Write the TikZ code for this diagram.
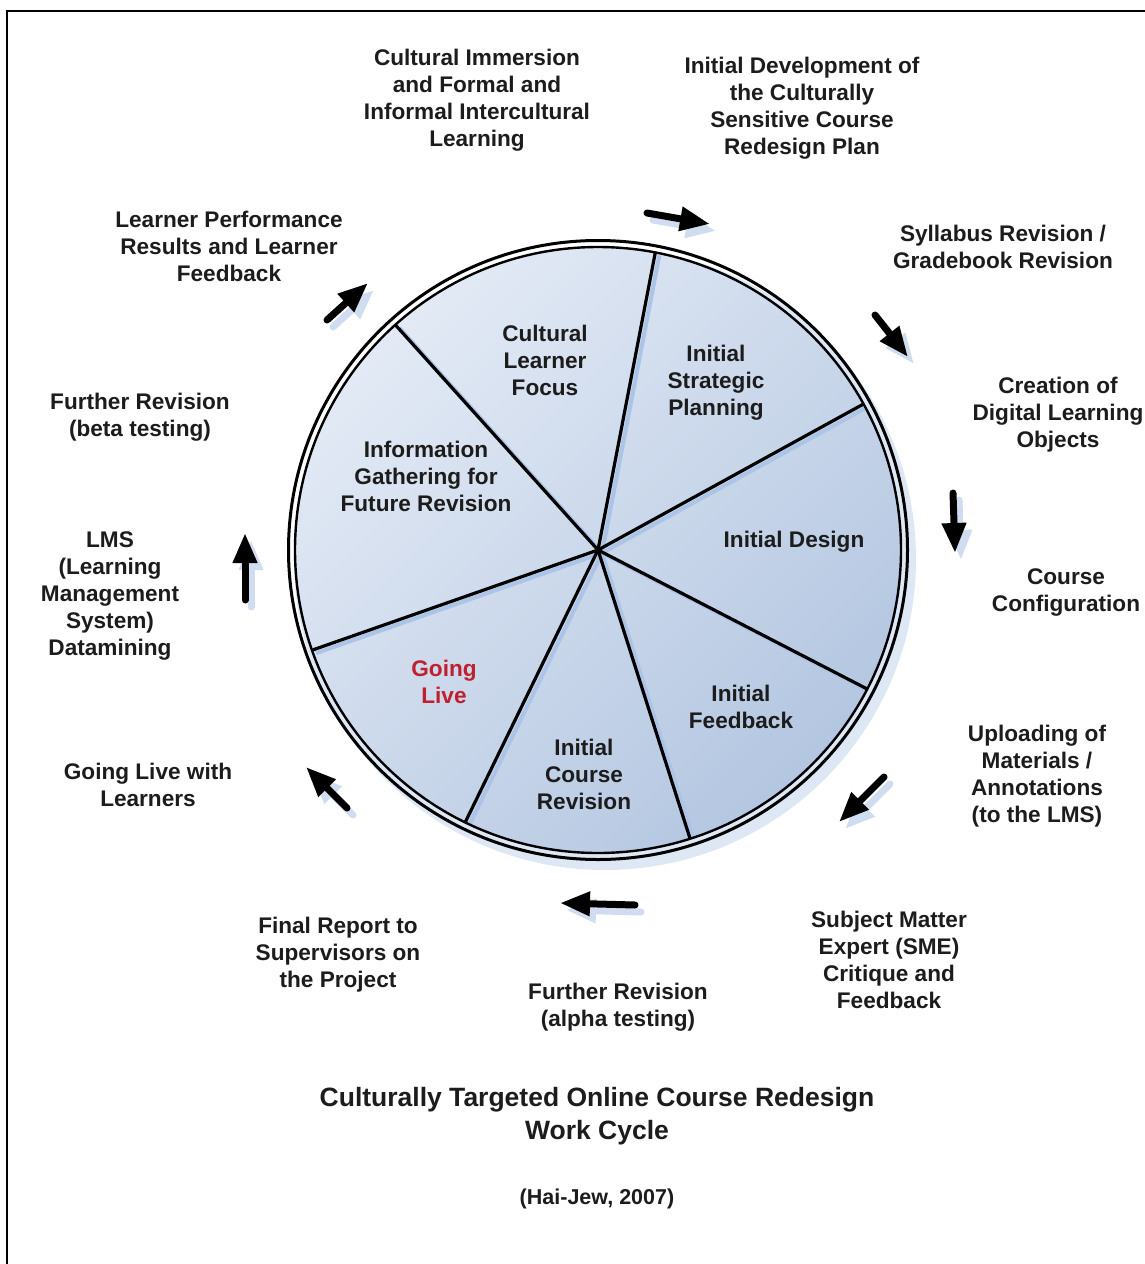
\documentclass[tikz,border=0pt]{standalone}
\usepackage{fontspec}
\setmainfont{Liberation Sans}
\usetikzlibrary{arrows.meta}
\definecolor{txt}{RGB}{28,28,28}
\definecolor{pieL}{RGB}{228,235,246}
\definecolor{pieD}{RGB}{178,197,224}
\definecolor{spokeshadow}{RGB}{172,196,230}
\definecolor{arrowshadow}{RGB}{208,220,240}
\definecolor{circshadow}{RGB}{222,231,244}
\definecolor{golive}{RGB}{192,32,45}
\tikzset{
  lbl/.style={font=\bfseries\fontsize{22.6}{27}\selectfont, text=txt, align=center, inner sep=0pt},
  ttl/.style={font=\bfseries\fontsize{26.5}{33}\selectfont, text=txt, align=center, inner sep=0pt},
  spoke/.style={line width=3.2pt, black},
  spokesh/.style={line width=4pt, spokeshadow},
  cyc/.style={line width=7pt, line cap=round, -{Triangle[length=30pt,width=23pt]}},
  cycsh/.style={cyc, arrowshadow},
  frame/.style={line width=2.4pt, black},
}
\begin{document}
\begin{tikzpicture}[x=1pt,y=-1pt]
\useasboundingbox (0,0) rectangle (1145,1264);
% frame (only left and top edges visible)
\coordinate (fbl) at (7,1264);
\coordinate (ftl) at (7,11);
\coordinate (ftr) at (1145,11);
\draw[frame] (fbl) -- (ftl) -- (ftr);

% centre and spoke ends
\coordinate (c) at (598,550);
\coordinate (s1) at (655.3,252.5);
\coordinate (s2) at (863.5,404.0);
\coordinate (s3) at (867.2,689.0);
\coordinate (s4) at (690.1,838.7);
\coordinate (s5) at (465.2,822.3);
\coordinate (s6) at (312.0,650.2);
\coordinate (s7) at (395.3,324.8);

% shadow of the wheel
\fill[circshadow] (605,559) circle (311);
% wheel fill
\begin{scope}
  \clip (c) circle (303);
  \shade[top color=pieL, bottom color=pieD, shading angle=45] (280,230) rectangle (920,870);
  \foreach \s in {s1,s2,s3,s4,s5,s6,s7}{
    \draw[spokesh] ([shift={(4,3)}]c) -- ([shift={(4,3)}]\s);
  }
\end{scope}
% spokes
\foreach \s in {s1,s2,s3,s4,s5,s6,s7}{
  \draw[spoke] (c) -- (\s);
}
% double ring
\draw[line width=2.4pt] (c) circle (303);
\draw[line width=3pt] (c) circle (309.5);

% cycle arrows
\coordinate (a1s) at (647,213); \coordinate (a1e) at (710,224);
\coordinate (a2s) at (875,315); \coordinate (a2e) at (908,357);
\coordinate (a3s) at (953,493); \coordinate (a3e) at (955,553);
\coordinate (a4s) at (884,777); \coordinate (a4e) at (839,822);
\coordinate (a5s) at (635,905); \coordinate (a5e) at (560,903);
\coordinate (a6s) at (347,808); \coordinate (a6e) at (306,767);
\coordinate (a7s) at (245,600); \coordinate (a7e) at (245,533);
\coordinate (a8s) at (327,320); \coordinate (a8e) at (368,283);
\foreach \i in {1,...,8}{
  \draw[cycsh] ([shift={(6,7)}]a\i s) -- ([shift={(6,7)}]a\i e);
}
\foreach \i in {1,...,8}{
  \draw[cyc] (a\i s) -- (a\i e);
}

% outer labels
\node[lbl] (l1) at (477,100.5) {Cultural Immersion\\and Formal and\\Informal Intercultural\\Learning};
\node[lbl] (l2) at (802,108.5) {Initial Development of\\the Culturally\\Sensitive Course\\Redesign Plan};
\node[lbl] (l3) at (1003,246.5) {Syllabus Revision /\\Gradebook Revision};
\node[lbl] (l4) at (1058,415) {Creation of\\Digital Learning\\Objects};
\node[lbl] (l5) at (1066,592.5) {Course\\Configuration};
\node[lbl] (l6) at (1037,776.5) {Uploading of\\Materials /\\Annotations\\(to the LMS)};
\node[lbl] (l7) at (889,959.5) {Subject Matter\\Expert (SME)\\Critique and\\Feedback};
\node[lbl] (l8) at (618,1007) {Further Revision\\(alpha testing)};
\node[lbl] (l9) at (338,955) {Final Report to\\Supervisors on\\the Project};
\node[lbl] (l10) at (148,784.5) {Going Live with\\Learners};
\node[lbl] (l11) at (110,596) {LMS\\(Learning\\Management\\System)\\Datamining};
\node[lbl] (l12) at (140,417) {Further Revision\\(beta testing)};
\node[lbl] (l13) at (229,246) {Learner Performance\\Results and Learner\\Feedback};

% sector labels
\node[lbl] (p1) at (545,360.5) {Cultural\\Learner\\Focus};
\node[lbl] (p2) at (716,383) {Initial\\Strategic\\Planning};
\node[lbl] (p3) at (794,542) {Initial Design};
\node[lbl] (p4) at (741,706.5) {Initial\\Feedback};
\node[lbl] (p5) at (584,774) {Initial\\Course\\Revision};
\node[lbl, text=golive] (p6) at (444,681.5) {Going\\Live};
\node[lbl] (p7) at (426,476) {Information\\Gathering for\\Future Revision};

% title
\node[ttl] (title) at (597,1116.5) {Culturally Targeted Online Course Redesign\\Work Cycle};
\node[lbl, font=\bfseries\fontsize{21.5}{26}\selectfont] (cite) at (597,1199) {(Hai-Jew, 2007)};
\end{tikzpicture}
\end{document}
